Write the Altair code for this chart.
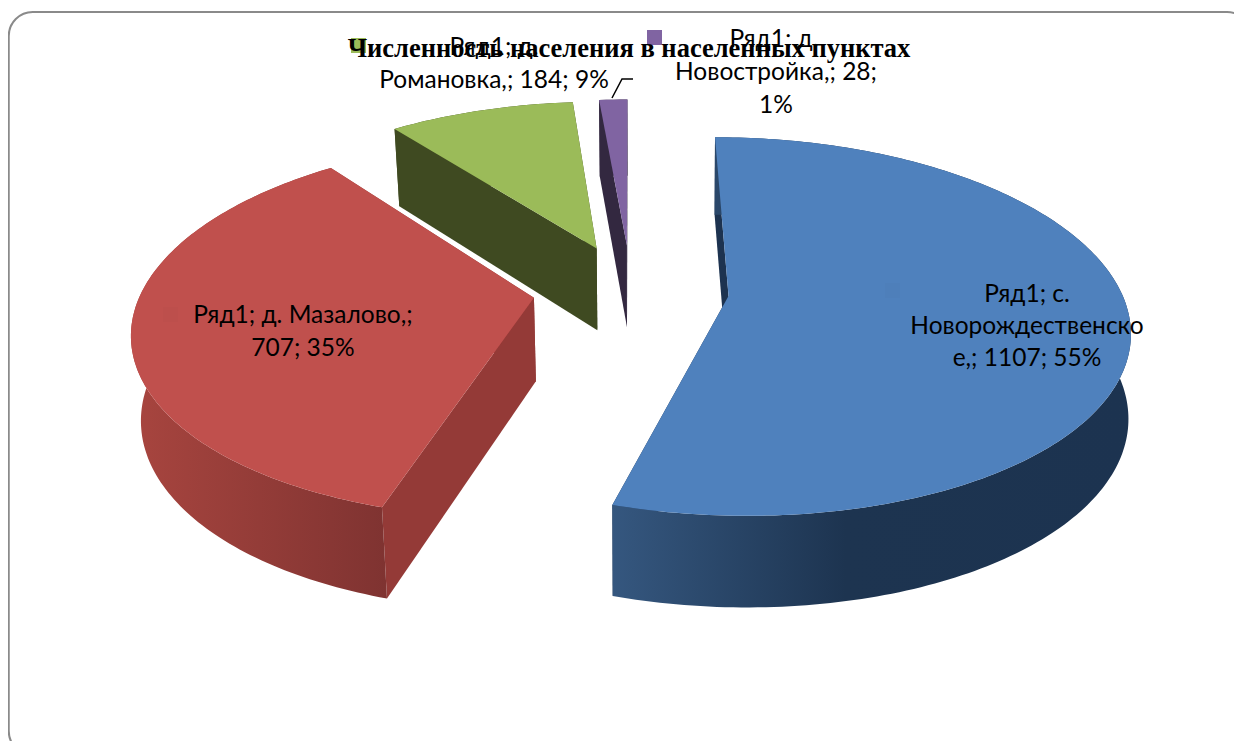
import math
import altair as alt

# ---- data ----
NAMES = ["с. Новорождественское", "д. Мазалово", "д. Романовка", "д. Новостройка"]
VALUES = [1107, 707, 184, 28]
TOP_COLORS = ["#4f81bd", "#c0504d", "#9bbb59", "#8064a2"]
WALL_COLORS = ["#1d3350", "#943a37", "#3f4a21", "#332840"]
TITLE = "Численность населения в населенных пунктах"

LABEL_TEXT = ["Ряд1; с.", "Новорождественско", "е,; 1107; 55%",
              "Ряд1; д. Мазалово,;", "707; 35%",
              "Ряд1; д.", "Романовка,; 184; 9%",
              "Ряд1; д.", "Новостройка,; 28;", "1%"]
LABEL_X = [1027, 1027, 1027, 303, 303, 494, 494, 774, 776, 776]
LABEL_Y = [302, 334, 366, 323, 356, 55, 88, 47, 80, 113]

KEY_X = [885, 163, 351, 647]
KEY_Y = [283, 307, 38, 30]
KEY_COLORS = ["#4e7fba", "#bd4f4c", "#9bbb59", "#8064a2"]

LEADER_X = [612, 622, 633]
LEADER_Y = [98, 79, 79]

# ---- 3D view parameters ----
M = 8            # page margin
OX, OY = 631.0, 289.4
R, K, U = 392.0, 0.465, 0.16
EXPLODE = 98.0


def project(x, y):
    s = 1 / (1 + U * y / R)
    return OX + x * s, OY - K * y * s


def lower(p):
    x, y = p
    f = 0.98 if x < OX else 0.995
    return OX + (x - OX) * f, y + 72.5 + 0.037 * y


def px(pts):
    return [[round(a - M, 2), round(b - M, 2)] for a, b in pts]


def feature(pts, fill):
    ring = px(pts)
    ring = ring + [ring[0]]
    return {"type": "Feature", "properties": {"fill": fill},
            "geometry": {"type": "Polygon", "coordinates": [ring]}}


total = sum(VALUES)
tops, walls, outers = [], [], []
a0 = 0.0
for v, tc, wc in zip(VALUES, TOP_COLORS, WALL_COLORS):
    span = 360 * v / total
    a1 = a0 + span
    mid = math.radians(a0 + span / 2)
    cx, cy = EXPLODE * math.sin(mid), EXPLODE * math.cos(mid)
    n = max(3, int(span))
    arc = []
    for i in range(n + 1):
        t = math.radians(a0 + span * i / n)
        arc.append(project(cx + R * math.sin(t), cy + R * math.cos(t)))
    apex = project(cx, cy)
    tops.append(feature([apex] + arc, tc))
    walls.append(feature([apex, arc[-1], lower(arc[-1]), lower(apex)], wc))
    walls.append(feature([apex, arc[0], lower(arc[0]), lower(apex)], wc))
    outers.append(arc + [lower(p) for p in reversed(arc)])
    a0 = a1


def geo(features):
    return (alt.Chart(alt.Data(values=features))
            .mark_geoshape(strokeWidth=0)
            .encode(fill=alt.Fill("properties.fill:N", scale=None, legend=None))
            .project(**{"type": "identity", "scale": 1, "translate": [0, 0]}))


def gradient(pts, stops):
    return (alt.Chart(alt.Data(values=[feature(pts, "x")]))
            .mark_geoshape(strokeWidth=0, fill=alt.LinearGradient(
                gradient="linear", x1=0, x2=1, y1=0, y2=0,
                stops=[alt.GradientStop(offset=o, color=c) for o, c in stops]))
            .project(**{"type": "identity", "scale": 1, "translate": [0, 0]}))


frame = (alt.Chart(alt.Data(values=[{"a": 1}]))
         .mark_rect(fill="white", stroke="#8a8a8a", strokeWidth=2, cornerRadius=24, clip=True)
         .encode(x=alt.value(0.75), x2=alt.value(1243), y=alt.value(4), y2=alt.value(747)))

outer_blue = gradient(outers[0], [(0, "#35577f"), (0.45, "#1d3450"), (1, "#1c3350")])
outer_red = gradient(outers[1], [(0, "#a8453f"), (1, "#7f3331")])
outer_green = gradient(outers[2], [(0, "#3f4a21"), (1, "#3f4a21")])
outer_purple = gradient(outers[3], [(0, "#332840"), (1, "#332840")])

keys = (alt.Chart(alt.Data(values=[
    {"x": x - M, "y": y - M, "x2": x - M + 15, "y2": y - M + 15, "c": c}
    for x, y, c in zip(KEY_X, KEY_Y, KEY_COLORS)]))
    .mark_rect()
    .encode(x=alt.X("x:Q", scale=None, axis=None), x2="x2:Q",
            y=alt.Y("y:Q", scale=None, axis=None), y2="y2:Q",
            fill=alt.Fill("c:N", scale=None, legend=None)))

labels = (alt.Chart(alt.Data(values=[
    {"t": t, "x": x - M, "y": y - M} for t, x, y in zip(LABEL_TEXT, LABEL_X, LABEL_Y)]))
    .mark_text(font="Lato", fontSize=24.5, align="center", baseline="alphabetic", color="#000000")
    .encode(x=alt.X("x:Q", scale=None, axis=None), y=alt.Y("y:Q", scale=None, axis=None), text="t:N"))

leader = (alt.Chart(alt.Data(values=[
    {"x": x - M, "y": y - M, "i": i} for i, (x, y) in enumerate(zip(LEADER_X, LEADER_Y))]))
    .mark_line(color="#000000", strokeWidth=1.5)
    .encode(x=alt.X("x:Q", scale=None, axis=None), y=alt.Y("y:Q", scale=None, axis=None), order="i:Q"))

title = (alt.Chart(alt.Data(values=[{"t": TITLE, "x": 629 - M, "y": 57 - M}]))
         .mark_text(font="Liberation Serif", fontWeight="bold", fontSize=26.5, align="center",
                    baseline="alphabetic", color="#000000")
         .encode(x=alt.X("x:Q", scale=None, axis=None), y=alt.Y("y:Q", scale=None, axis=None), text="t:N"))

chart = alt.layer(frame, geo(walls), outer_blue, outer_red, outer_green, outer_purple,
                  geo(tops), keys, leader, labels, title).properties(
    width=1226, height=733, padding=0, autosize=alt.AutoSizeParams(type="none"),
    background="white").configure_view(stroke=None)

chart.save("out.html", embed_options={"renderer": "svg", "actions": False})
